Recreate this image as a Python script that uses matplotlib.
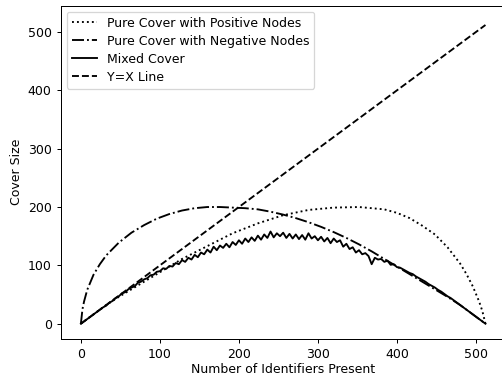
import matplotlib

matplotlib.use("Agg")
import matplotlib.pyplot as plt

# pure cover curves at sample points
pos_x = [0, 8, 16, 32, 48, 64, 96, 128, 160, 192, 224, 256, 288, 320, 352,
         384, 400, 416, 432, 448, 464, 480, 488, 496, 504, 508, 512]
pos_y = [0, 8, 16, 32, 46, 59, 85, 111, 133, 155, 172, 186, 195, 199, 200,
         196, 190, 181, 168, 153, 131, 103, 85, 64, 38, 22, 0]

neg_x = [0, 2, 4, 8, 16, 24, 32, 48, 64, 80, 96, 112, 128, 144, 160, 176,
         192, 208, 224, 240, 256, 272, 288, 304, 320, 336, 352, 368, 384,
         400, 416, 432, 448, 464, 480, 496, 512]
neg_y = [0, 25, 38, 58, 84, 102, 117, 139, 156, 169, 180, 188, 194, 198, 200, 200,
         199, 198, 196, 192, 187, 181, 174, 166, 157, 147, 136, 124, 111,
         98, 85, 72, 59, 46, 32, 16, 0]

# mixed cover, every 4 identifiers
mixed_x = list(range(0, 513, 4))
mixed_y = [0, 4, 8, 12, 16, 20, 24, 28, 31, 36, 39, 44, 47, 52, 54, 59,
           62, 64, 70, 72, 76, 78, 83, 84, 89, 90, 95, 94, 99, 98, 104, 102,
           109, 106, 113, 110, 118, 114, 122, 119, 127, 122, 132, 126, 134, 130, 137, 131,
           140, 135, 143, 137, 146, 140, 148, 142, 151, 144, 153, 147, 158, 148, 155, 150,
           156, 147, 154, 146, 153, 145, 152, 144, 155, 146, 150, 143, 149, 141, 147, 138,
           146, 140, 143, 132, 137, 128, 131, 122, 126, 119, 121, 116, 102, 113, 110, 111,
           106, 108, 101, 102, 97, 96, 93, 90, 87, 85, 81, 78, 75, 72, 68, 65,
           62, 58, 55, 51, 47, 44, 40, 36, 32, 28, 24, 20, 16, 12, 8, 4,
           0]

line_x = [0, 512]
line_y = [0, 512]

fig = plt.figure(figsize=(502 / 90, 383 / 90), dpi=90)
ax = fig.add_axes([60.5 / 502, 44 / 383, 445.5 / 502, 333.5 / 383])

ax.plot(pos_x, pos_y, ":", color="black", label="Pure Cover with Positive Nodes")
ax.plot(neg_x, neg_y, "-.", color="black", label="Pure Cover with Negative Nodes")
ax.plot(mixed_x, mixed_y, "-", color="black", label="Mixed Cover")
ax.plot(line_x, line_y, "--", color="black", label="Y=X Line")

ax.set_xlim(-25.8, 538)
ax.set_ylim(-26.2, 545.4)
ax.set_xlabel("Number of Identifiers Present", labelpad=2)
ax.set_ylabel("Cover Size")
ax.legend(loc="upper left", labelspacing=0.4)

fig.savefig("out.png", dpi=90)
